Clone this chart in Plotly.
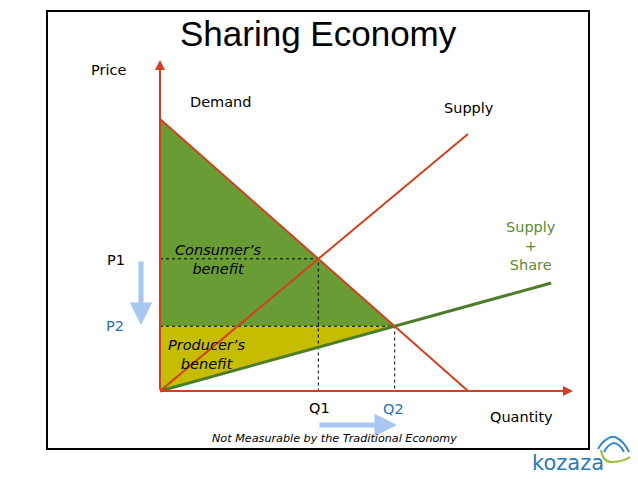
import plotly.graph_objects as go

# ---- data (economic units) ----
demand_q = [0, 10]
demand_p = [10, 0]
supply_q = [0, 10]
supply_p = [0, 9.45]
share_q = [0, 12.7]
share_p = [0, 3.97]
Q1, P1 = 5.14, 4.86
Q2, P2 = 7.62, 2.38
axis_q_max, axis_p_max = 13.41, 12.17

# ---- layout geometry (page pixels; page has 8px body margin) ----
OFF = 8
W, H = 638 - OFF, 479 - OFF
ORIGIN_X, ORIGIN_Y = 160 - OFF, 391 - OFF
KX, KY = 30.8, 27.2
X0 = -ORIGIN_X / KX
X1 = X0 + W / KX
Y1 = ORIGIN_Y / KY
Y0 = Y1 - H / KY

def px(x):
    return (x - OFF) / W
def py(y):
    return 1 - (y - OFF) / H

RED = "#d2401e"
GREEN_LINE = "#4e7d2a"
GREEN_FILL = "#699c35"
YELLOW = "#c6bc00"
BLUE_TXT = "#2f6fb6"
ARROW_BLUE = "#a9c6f3"
FONT = "DejaVu Sans"

fig = go.Figure()

# fills
fig.add_trace(go.Scatter(x=[0, Q2, 0, 0], y=[demand_p[0], P2, P2, demand_p[0]], fill="toself",
                         fillcolor=GREEN_FILL, line=dict(width=0), mode="lines", hoverinfo="skip"))
fig.add_trace(go.Scatter(x=[0, Q2, 0, 0], y=[P2, P2, 0, P2], fill="toself",
                         fillcolor=YELLOW, line=dict(width=0), mode="lines", hoverinfo="skip"))

# dotted guides
fig.add_trace(go.Scatter(x=[0, Q1, Q1], y=[P1, P1, 0], mode="lines",
                         line=dict(color="black", width=1, dash="dot"), hoverinfo="skip"))
fig.add_trace(go.Scatter(x=[0, Q2, Q2], y=[P2, P2, 0], mode="lines",
                         line=dict(color="black", width=1, dash="dot"), hoverinfo="skip"))

# curves
fig.add_trace(go.Scatter(x=share_q, y=share_p, mode="lines", line=dict(color=GREEN_LINE, width=3), hoverinfo="skip"))
fig.add_trace(go.Scatter(x=demand_q, y=demand_p, mode="lines", line=dict(color=RED, width=2), hoverinfo="skip"))
fig.add_trace(go.Scatter(x=supply_q, y=supply_p, mode="lines", line=dict(color=RED, width=2), hoverinfo="skip"))

ann = []
# axis arrows
ann.append(dict(x=0, y=axis_p_max, ax=0, ay=0, xref="x", yref="y", axref="x", ayref="y",
                showarrow=True, arrowhead=2, arrowsize=1, arrowwidth=2, arrowcolor=RED, text=""))
ann.append(dict(x=axis_q_max, y=0, ax=0, ay=0, xref="x", yref="y", axref="x", ayref="y",
                showarrow=True, arrowhead=2, arrowsize=1, arrowwidth=2, arrowcolor=RED, text=""))
# blue arrows
ann.append(dict(x=px(141), y=py(325), ax=px(141), ay=py(260), xref="x domain", yref="y domain",
                axref="x domain", ayref="y domain", showarrow=True, arrowhead=2, arrowsize=0.9,
                arrowwidth=5, arrowcolor=ARROW_BLUE, text=""))
ann.append(dict(x=px(397), y=py(425), ax=px(318), ay=py(425), xref="x domain", yref="y domain",
                axref="x domain", ayref="y domain", showarrow=True, arrowhead=2, arrowsize=0.9,
                arrowwidth=5, arrowcolor=ARROW_BLUE, text=""))

def label(x, y, text, size=14.5, color="black", italic=False, family=FONT):
    if italic:
        text = "<i>" + text + "</i>"
    ann.append(dict(x=px(x), y=py(y), xref="paper", yref="paper", text=text, showarrow=False,
                    font=dict(family=family, size=size, color=color), xanchor="center", yanchor="middle"))

label(318, 34, "Sharing Economy", size=35, family="Liberation Sans")
label(108, 70, "Price")
label(221, 102, "Demand")
label(469, 108, "Supply")
label(531, 246, "Supply<br>+<br>Share", color="#5b8a30")
label(521, 417, "Quantity")
label(116, 260, "P1")
label(115, 326, "P2", color=BLUE_TXT)
label(319, 408, "Q1")
label(393, 409, "Q2", color=BLUE_TXT)
label(219, 259, "Consumer’s<br>benefit", italic=True)
label(206, 354, "Producer’s<br>benefit", italic=True)
label(334, 438, "Not Measurable by the Traditional Economy", 11.2, italic=True)
label(568, 463, "kozaza", 21, color="#2b7bb9")

shapes = [
    dict(type="rect", xref="paper", yref="paper", x0=px(47), x1=px(589), y0=py(449), y1=py(11),
         line=dict(color="black", width=2), fillcolor="rgba(0,0,0,0)"),
]

def pt(x, y):
    return f"{px(x):.4f},{py(y):.4f}"

# logo: blue roof outline and green smile
shapes.append(dict(type="path", xref="paper", yref="paper",
                   path=f"M {pt(598,449)} Q {pt(603,440)} {pt(611,437)} L {pt(615,437)} Q {pt(624,441)} {pt(629,452)}",
                   line=dict(color="#3b8ac4", width=2)))
shapes.append(dict(type="path", xref="paper", yref="paper",
                   path=f"M {pt(604,452)} Q {pt(608,444)} {pt(614,443)} Q {pt(620,444)} {pt(624,452)}",
                   line=dict(color="#3b8ac4", width=2)))
shapes.append(dict(type="path", xref="paper", yref="paper",
                   path=f"M {pt(601,450)} Q {pt(603,463)} {pt(613,462)} Q {pt(624,461)} {pt(630,457)}",
                   line=dict(color="#9bbf3c", width=2)))

fig.update_layout(
    width=W, height=H, autosize=False,
    margin=dict(l=0, r=0, t=0, b=0),
    paper_bgcolor="white", plot_bgcolor="white",
    showlegend=False,
    xaxis=dict(range=[X0, X1], visible=False, fixedrange=True),
    yaxis=dict(range=[Y0, Y1], visible=False, fixedrange=True),
    annotations=ann, shapes=shapes,
)

fig.write_html("out.html")
